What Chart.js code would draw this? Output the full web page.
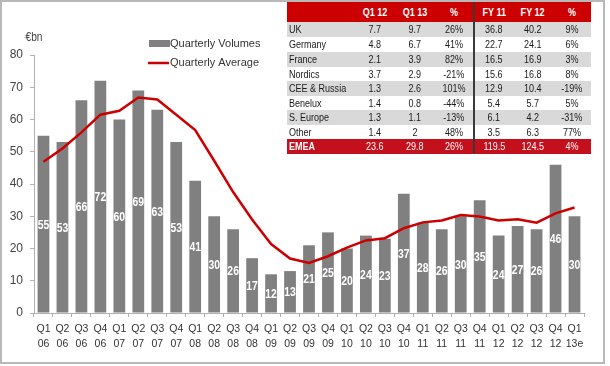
<!DOCTYPE html>
<html>
<head>
<meta charset="utf-8">
<script src="https://cdn.jsdelivr.net/npm/chart.js@4"></script>
<style>
  html, body { margin:0; padding:0; background:#fff; }
  #wrap { position:relative; width:610px; height:366px; overflow:hidden; }
  #frame { position:absolute; left:0; top:0; width:601px; height:360px; border:2px solid #b8b8b8; pointer-events:none; }
  canvas { position:absolute; left:0; top:0; }
  #tbl { position:absolute; left:287px; top:2px; border-collapse:collapse; font-family:'Liberation Sans',Arial,sans-serif; font-size:11px; color:#1a1a1a; table-layout:fixed; }
  #tbl td { padding:0; text-align:center; white-space:nowrap; overflow:visible; line-height:11px; }
  #tbl td span { display:inline-block; transform:scaleX(0.82); transform-origin:50% 50%; }
  #tbl td.lab { text-align:left; padding-left:2px; }
  #tbl td.lab span { transform-origin:0 50%; }
  #tbl tr.hdr td { background:#cc0000; color:#fff; font-weight:bold; height:20px; }
  #tbl tr.g td { background:#d9d9d9; }
  #tbl tr.w td { background:#fff; }
  #tbl tr.tot td { background:#c40f1d; color:#fff; }
  #tbl tr.tot td.lab { font-weight:bold; }
  #tbl td.div { border-left:2px solid #3a3a3a; }
</style>
</head>
<body>
<div id="wrap">
  <canvas id="c" width="610" height="366"></canvas>
  <table id="tbl"></table>
  <div id="frame"></div>
</div>
<script>
// ---- chart data ----
const quarters = ['Q1','Q2','Q3','Q4','Q1','Q2','Q3','Q4','Q1','Q2','Q3','Q4','Q1','Q2','Q3','Q4','Q1','Q2','Q3','Q4','Q1','Q2','Q3','Q4','Q1','Q2','Q3','Q4','Q1'];
const years    = ['06','06','06','06','07','07','07','07','08','08','08','08','09','09','09','09','10','10','10','10','11','11','11','11','12','12','12','12','13e'];
const volumes  = [55,53,66,72,60,69,63,53,41,30,26,17,12,13,21,25,20,24,23,37,28,26,30,35,24,27,26,46,30];
const average  = [46.9,51,56,61.5,62.7,66.8,66.2,61.5,56.7,47.2,37.5,29,21.4,16.9,15.5,17.6,20.3,22.5,23.2,26.3,28.1,28.7,30.4,29.9,28.7,29.1,28.0,30.9,32.7];
const yTicks   = [0,10,20,30,40,50,60,70,80];
const seriesNames = ['Quarterly Volumes','Quarterly Average'];
const unitLabel = '€bn';

// ---- table data ----
const tableHeader = ['', 'Q1 12', 'Q1 13', '%', 'FY 11', 'FY 12', '%'];
const regions = ['UK','Germany','France','Nordics','CEE & Russia','Benelux','S. Europe','Other','EMEA'];
const q1_12 = ['7.7','4.8','2.1','3.7','1.3','1.4','1.3','1.4','23.6'];
const q1_13 = ['9.7','6.7','3.9','2.9','2.6','0.8','1.1','2','29.8'];
const pctQ  = ['26%','41%','82%','-21%','101%','-44%','-13%','48%','26%'];
const fy11  = ['36.8','22.7','16.5','15.6','12.9','5.4','6.1','3.5','119.5'];
const fy12  = ['40.2','24.1','16.9','16.8','10.4','5.7','4.2','6.3','124.5'];
const pctFY = ['9%','6%','3%','8%','-19%','5%','-31%','77%','4%'];

// ---- build table ----
(function(){
  const t = document.getElementById('tbl');
  const widths = [68,40,40,39,39,40,38];
  const rowH = [15,15,15,14,15,14,15,14,15];
  const cg = document.createElement('colgroup');
  widths.forEach(w => { const c = document.createElement('col'); c.style.width = w + 'px'; cg.appendChild(c); });
  t.appendChild(cg);
  t.style.width = widths.reduce((a,b)=>a+b,0) + 'px';
  const mk = (txt) => { const s = document.createElement('span'); s.textContent = txt; return s; };
  const hr = document.createElement('tr'); hr.className = 'hdr';
  tableHeader.forEach((h,i) => { const td = document.createElement('td'); td.appendChild(mk(h)); if (i===4) td.className='div'; hr.appendChild(td); });
  t.appendChild(hr);
  regions.forEach((r,k) => {
    const tr = document.createElement('tr');
    tr.className = (k === regions.length-1) ? 'tot' : (k % 2 === 0 ? 'g' : 'w');
    const vals = [r, q1_12[k], q1_13[k], pctQ[k], fy11[k], fy12[k], pctFY[k]];
    vals.forEach((v,i) => {
      const td = document.createElement('td'); td.appendChild(mk(v));
      td.style.height = rowH[k] + 'px';
      if (i===0) td.className = 'lab';
      if (i===4) td.className = 'div';
      tr.appendChild(td);
    });
    t.appendChild(tr);
  });
})();

const REG = "'Liberation Sans',Arial,sans-serif";

const extras = {
  id: 'extras',
  afterDatasetsDraw(chart) {
    const ctx = chart.ctx;
    // value labels inside bars
    const meta = chart.getDatasetMeta(1);
    ctx.save();
    ctx.font = 'bold 13px ' + REG;
    ctx.fillStyle = '#ffffff';
    ctx.textAlign = 'center';
    ctx.textBaseline = 'middle';
    meta.data.forEach((bar, i) => {
      const p = bar.getProps(['x','y','base'], true);
      ctx.save();
      ctx.translate(p.x, (p.y + p.base) / 2 + 1);
      ctx.scale(0.8, 1);
      ctx.fillText(String(chart.data.datasets[1].data[i]), 0, 0);
      ctx.restore();
    });
    ctx.restore();
  },
  afterDraw(chart) {
    const ctx = chart.ctx;
    ctx.save();
    // unit label
    ctx.font = '12px ' + REG;
    ctx.fillStyle = '#444';
    ctx.textAlign = 'center';
    ctx.textBaseline = 'middle';
    ctx.save(); ctx.translate(34, 38); ctx.scale(0.85, 1); ctx.fillText(unitLabel, 0, 0); ctx.restore();
    // legend
    const dsBar = chart.data.datasets[1], dsLine = chart.data.datasets[0];
    ctx.fillStyle = dsBar.backgroundColor;
    ctx.fillRect(149, 40, 21, 7);
    ctx.strokeStyle = dsLine.borderColor;
    ctx.lineWidth = 2.5;
    ctx.beginPath(); ctx.moveTo(148, 63); ctx.lineTo(169, 63); ctx.stroke();
    ctx.font = '11px ' + REG;
    ctx.fillStyle = '#333';
    ctx.textAlign = 'left';
    ctx.fillText(dsBar.label, 170, 44);
    ctx.fillText(dsLine.label, 170, 63);
    ctx.restore();
  }
};

new Chart(document.getElementById('c'), {
  type: 'bar',
  data: {
    labels: quarters.map((q,i) => [q, years[i]]),
    datasets: [
      { type: 'line', label: seriesNames[1], data: average, borderColor: '#cc0000', borderWidth: 2.5,
        pointRadius: 0, tension: 0, order: 0, fill: false },
      { label: seriesNames[0], data: volumes, backgroundColor: '#808080', barPercentage: 0.62,
        categoryPercentage: 1, order: 1 }
    ]
  },
  options: {
    responsive: false,
    animation: false,
    devicePixelRatio: 1,
    layout: { padding: { left: 0, right: 26, top: 55, bottom: 13 } },
    plugins: { legend: { display: false }, tooltip: { enabled: false } },
    scales: {
      x: {
        grid: { display: true, drawOnChartArea: false, drawTicks: true, tickLength: 4, color: '#b0b0b0', offset: true },
        border: { color: '#b0b0b0', width: 1 },
        ticks: { color: '#333', font: { family: REG, size: 10.5, lineHeight: '15px' }, maxRotation: 0, autoSkip: false, padding: 5 },
        afterFit: s => { s.height = 40; }
      },
      y: {
        min: 0, max: 80,
        afterBuildTicks: s => { s.ticks = yTicks.map(v => ({ value: v })); },
        grid: { display: true, drawOnChartArea: false, drawTicks: true, tickLength: 4, color: '#b0b0b0' },
        border: { color: '#b0b0b0', width: 1 },
        ticks: { color: '#444', font: { family: REG, size: 12 }, padding: 7 },
        afterFit: s => { s.width = 34; }
      }
    }
  },
  plugins: [extras]
});
</script>
</body>
</html>
